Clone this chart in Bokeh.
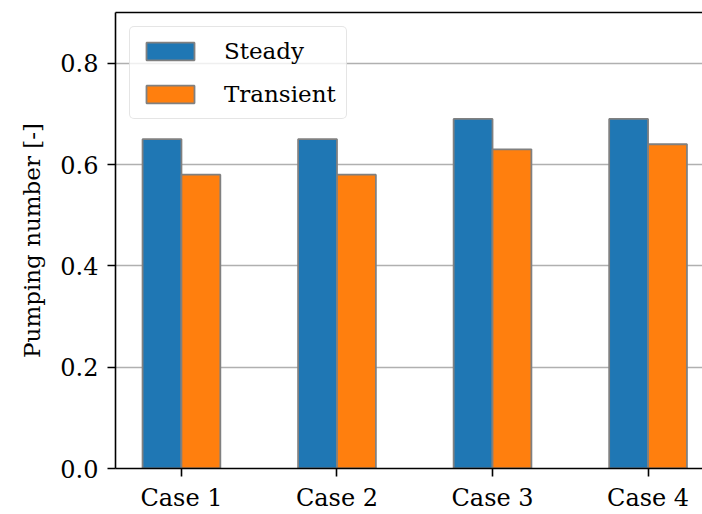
import numpy as np
from bokeh.plotting import figure
from bokeh.models import ColumnDataSource, FixedTicker, LinearAxis, Range1d, CustomJSTickFormatter
from bokeh.embed import file_html
from bokeh.resources import INLINE

cases = ["Case 1", "Case 2", "Case 3", "Case 4"]
steady = [0.65, 0.65, 0.69, 0.69]
transient = [0.58, 0.58, 0.63, 0.64]
y_ticks = [0.0, 0.2, 0.4, 0.6, 0.8]

FONT = "DejaVu Serif"
xs = np.arange(len(cases))
bw = 0.25

src = ColumnDataSource(dict(
    xs_s=xs - bw / 2, xs_t=xs + bw / 2, steady=steady, transient=transient))

p = figure(width=702, height=514, output_backend="svg", toolbar_location=None,
           x_range=Range1d(-0.424, 3.35), y_range=Range1d(0, 0.9),
           min_border_left=115, min_border_right=0, min_border_top=12,
           min_border_bottom=45)
p.outline_line_color = None
p.background_fill_color = "white"

p.vbar(x="xs_s", top="steady", width=bw, source=src, fill_color="#1f77b4",
       line_color="#808080", line_width=1.8, legend_label="Steady")
p.vbar(x="xs_t", top="transient", width=bw, source=src, fill_color="#ff7f0e",
       line_color="#808080", line_width=1.8, legend_label="Transient")

# axes
p.xaxis.ticker = FixedTicker(ticks=list(xs))
p.xaxis.major_label_overrides = {int(i): c for i, c in zip(xs, cases)}
p.yaxis.ticker = FixedTicker(ticks=y_ticks)
p.yaxis.formatter = CustomJSTickFormatter(code="return tick.toFixed(1);")
for ax in (p.xaxis[0], p.yaxis[0]):
    ax.major_label_text_font = FONT
    ax.major_label_text_font_size = "24px"
    ax.major_label_text_color = "black"
    ax.axis_line_color = "black"
    ax.axis_line_width = 1.6
    ax.major_tick_line_color = "black"
    ax.major_tick_line_width = 1.6
    ax.major_tick_in = 0
    ax.major_tick_out = 8
    ax.minor_tick_line_color = None
p.xaxis.major_label_standoff = 7
p.yaxis.major_label_standoff = 9
p.yaxis.axis_label = "Pumping number [-]"
p.yaxis.axis_label_text_font = FONT
p.yaxis.axis_label_text_font_size = "23px"
p.yaxis.axis_label_text_font_style = "normal"
p.yaxis.axis_label_text_color = "black"
p.yaxis.axis_label_standoff = 12

top_ax = LinearAxis(ticker=FixedTicker(ticks=[]), major_label_text_font_size="0px",
                    axis_line_color="black", axis_line_width=1.6,
                    major_tick_line_color=None, minor_tick_line_color=None)
p.add_layout(top_ax, "above")

p.xgrid.grid_line_color = None
p.ygrid.grid_line_color = "#b0b0b0"
p.ygrid.grid_line_width = 1.3

lg = p.legend[0]
lg.location = "top_left"
lg.margin = 14
lg.label_text_font = FONT
lg.label_text_font_size = "23px"
lg.label_text_color = "black"
lg.glyph_width = 60
lg.glyph_height = 22
lg.label_height = 28
lg.label_standoff = 24
lg.spacing = 15
lg.padding = 10
lg.border_line_color = "#cccccc"
lg.border_line_width = 1.5
lg.background_fill_alpha = 0.8
try:
    lg.border_radius = 5
except Exception:
    pass

open("out.html", "w").write(file_html(p, INLINE))
